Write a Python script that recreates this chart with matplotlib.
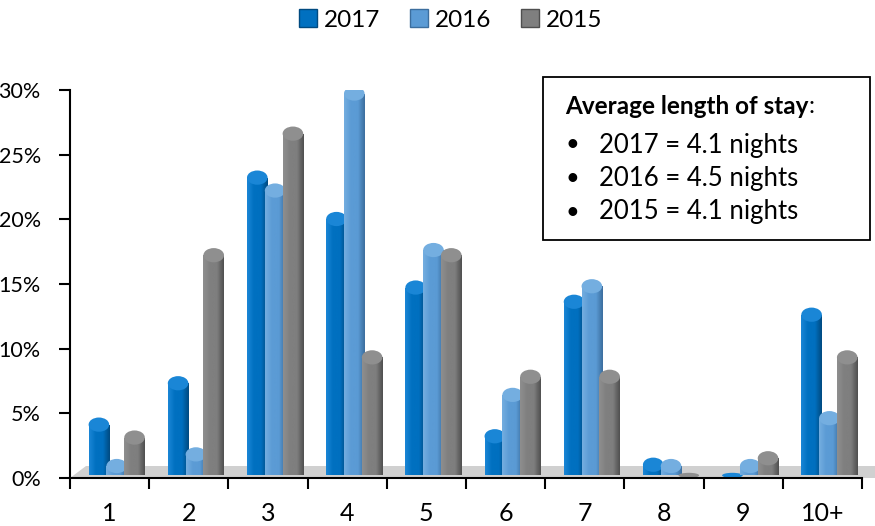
import numpy as np
import matplotlib
matplotlib.use("Agg")
import matplotlib.pyplot as plt
from matplotlib.patches import Patch, Polygon, Rectangle, Ellipse
from matplotlib.colors import LinearSegmentedColormap

plt.rcParams['font.family'] = ['Lato', 'DejaVu Sans']

# nights stayed
categories = ['1', '2', '3', '4', '5', '6', '7', '8', '9', '10+']
years = ['2017', '2016', '2015']
share_2017 = [4.2, 7.4, 23.3, 20.1, 14.8, 3.3, 13.7, 1.1, 0.1, 12.7]
share_2016 = [1.0, 1.9, 22.3, 29.8, 17.7, 6.5, 14.9, 1.0, 1.0, 4.7]
share_2015 = [3.2, 17.3, 26.7, 9.4, 17.3, 7.9, 7.9, 0.1, 1.6, 9.4]
yticks = [0, 5, 10, 15, 20, 25, 30]
avg_stay = ['2017 = 4.1 nights', '2016 = 4.5 nights', '2015 = 4.1 nights']

colors = ['#0070C0', '#5B9BD5', '#7F7F7F']
dark = ['#004A80', '#3C6E9E', '#4F4F4F']
light = ['#1A86D6', '#74AEE0', '#8F8F8F']

fig = plt.figure(figsize=(8.75, 5.26), dpi=100)
ax = fig.add_axes([0.080, 0.0913, 0.905, 0.7376])

x = np.arange(len(categories))
width = 0.26
step = 0.225
shift = 0.09

# floor
floor = Polygon([(0, 0), (1.02, 0), (1.02, 0.03), (0.02, 0.03)], closed=True,
                transform=ax.transAxes, facecolor='#D0D0D0', edgecolor='none',
                zorder=1, clip_on=False)
ax.add_patch(floor)

series = [share_2017, share_2016, share_2015]
grad = np.linspace(0, 1, 64).reshape(1, -1)
cap_h = 0.55
for i, vals in enumerate(series):
    pos = x + shift + (i - 1) * step
    body = [max(v - cap_h / 2, 0) for v in vals]
    bars = ax.bar(pos, body, width=width, bottom=0.2, color=colors[i],
                  zorder=2 + i * 0.1, linewidth=0)
    cmap = LinearSegmentedColormap.from_list('g%d' % i, [light[i], colors[i], colors[i], dark[i]])
    for b, v in zip(bars, vals):
        bx, bw, bh = b.get_x(), b.get_width(), b.get_height()
        if bh > 0:
            im = ax.imshow(grad, cmap=cmap, extent=[bx, bx + bw, 0.2, 0.2 + bh],
                           aspect='auto', zorder=2 + i * 0.1, interpolation='bicubic')
            im.set_clip_path(b)
        cap = Ellipse((bx + bw / 2, 0.2 + bh), bw, cap_h * 2 if v > 0.5 else 0.4,
                      facecolor=light[i], edgecolor='none', zorder=2 + i * 0.1 + 0.01)
        ax.add_patch(cap)

ax.set_xlim(-0.5, len(categories) - 0.5)
ax.set_ylim(0, 30)
ax.set_yticks(yticks)
ax.set_yticklabels(['%d%%' % t for t in yticks], fontsize=15.5)
ax.set_xticks(x)
ax.set_xticklabels(categories, fontsize=18)
ax.set_xticks(np.arange(-0.5, len(categories), 1), minor=True)
ax.tick_params(axis='x', which='major', length=0, pad=17)
ax.tick_params(axis='x', which='minor', length=8, width=1.5, direction='out')
ax.tick_params(axis='y', length=8, width=1.5, direction='out', pad=13)
for s in ['top', 'right']:
    ax.spines[s].set_visible(False)
ax.spines['left'].set_linewidth(1.5)
ax.spines['bottom'].set_linewidth(1.5)
ax.spines['left'].set_zorder(5)
ax.spines['bottom'].set_zorder(5)

handles = [Patch(facecolor=c, edgecolor=d) for c, d in zip(colors, dark)]
fig.legend(handles, years, loc='center', bbox_to_anchor=(0.515, 0.962), ncol=3,
           frameon=False, fontsize=17.5, handlelength=0.75, handleheight=0.75,
           handletextpad=0.3, columnspacing=1.2)

# info box
box = Rectangle((543 / 875, 1 - 240 / 526), (870 - 543) / 875, (240 - 77) / 526,
                transform=fig.transFigure, facecolor='white', edgecolor='black',
                linewidth=1.3, zorder=10)
fig.add_artist(box)
t = fig.text(565 / 875, 1 - 106 / 526, 'Average length of stay', fontsize=17.5,
             fontweight='bold', va='center', ha='left', zorder=11)
fig.canvas.draw()
bb = t.get_window_extent()
fig.text(bb.x1 / fig.bbox.width, 1 - 106 / 526, ':', fontsize=17.5, va='center',
         ha='left', zorder=11)
for k, line in enumerate(avg_stay):
    yy = 1 - (145 + k * 33.5) / 526
    fig.text(565 / 875, yy, '\u2022', fontsize=17, va='center', ha='left', zorder=11)
    fig.text(599 / 875, yy, line, fontsize=18.5, va='center', ha='left', zorder=11)

fig.savefig('out.png', dpi=100)
